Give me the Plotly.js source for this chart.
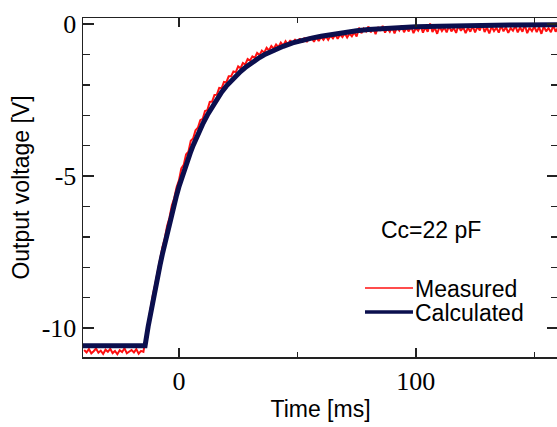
<!DOCTYPE html>
<html>
<head>
<meta charset="utf-8">
<script src="https://cdn.plot.ly/plotly-3.0.1.min.js"></script>
<style>
html,body{margin:0;padding:0;overflow:hidden;background:#fff;}
#chart{width:560px;height:427px;}
</style>
</head>
<body>
<div id="chart"></div>
<script>
// Calculated response (smooth curve)
const calcTime = [-40.5,-14.3,-13,-12,-11,-10,-9,-8,-7,-6,-5,-4,-3,-2,-1,0,1,2,3,4,5,6,7,8,9,10,12,14,16,18,20,22,24,26,28,30,32,34,36,38,40,44,48,52,56,60,65,70,75,80,90,100,110,120,130,140,160];
const calcVolt = [-10.58,-10.58,-9.95,-9.50,-9.08,-8.68,-8.30,-7.93,-7.57,-7.22,-6.88,-6.55,-6.22,-5.92,-5.63,-5.35,-5.09,-4.85,-4.62,-4.40,-4.19,-3.99,-3.80,-3.62,-3.45,-3.29,-2.99,-2.72,-2.47,-2.24,-2.04,-1.86,-1.70,-1.56,-1.43,-1.31,-1.20,-1.10,-1.01,-0.93,-0.86,-0.73,-0.62,-0.53,-0.46,-0.40,-0.33,-0.27,-0.22,-0.18,-0.125,-0.09,-0.07,-0.05,-0.04,-0.03,-0.02];

// Measured response, 1 ms spacing from -40 ms to 160 ms
const measStart = -40;
const measVolt = [
-10.72,-10.80,-10.69,-10.83,-10.76,-10.67,-10.81,-10.74,-10.85,-10.71,
-10.78,-10.68,-10.82,-10.75,-10.86,-10.73,-10.79,-10.66,-10.83,-10.77,
-10.72,-10.80,-10.69,-10.84,-10.75,-10.78,
-10.31,-9.78,-9.38,-8.90,-8.55,-8.11,-7.79,-7.35,-7.05,-6.64,-6.37,-5.97,-5.73,-5.37,
-5.14,-4.75,-4.63,-4.29,-4.20,-3.84,-3.76,-3.49,-3.41,-3.16,
-3.12,-2.86,-2.83,-2.56,-2.55,-2.33,-2.32,-2.10,-2.11,-1.90,
-1.92,-1.72,-1.72,-1.56,-1.58,-1.39,-1.45,-1.28,-1.33,-1.15,
-1.20,-1.06,-1.11,-0.95,-1.02,-0.87,-0.94,-0.78,-0.87,-0.72,
-0.81,-0.67,-0.76,-0.61,-0.71,-0.56,-0.68,-0.53,-0.66,-0.50,
-0.64,-0.47,-0.61,-0.45,-0.59,-0.44,
-0.45,-0.58,-0.43,-0.56,-0.42,-0.52,-0.40,-0.52,-0.38,-0.47,
-0.34,-0.48,-0.34,-0.43,-0.30,-0.44,-0.31,-0.40,-0.27,-0.41,
-0.12,-0.30,-0.15,-0.24,-0.08,-0.27,-0.13,-0.33,-0.10,-0.22,
-0.06,-0.28,-0.14,-0.25,-0.09,-0.31,-0.11,-0.21,-0.04,-0.27,
-0.12,-0.24,-0.07,-0.30,-0.13,-0.22,-0.05,-0.28,-0.10,-0.25,
0.02,-0.26,-0.12,-0.32,-0.08,-0.23,-0.11,-0.27,-0.06,-0.24,
-0.13,-0.29,-0.04,-0.22,-0.10,-0.30,-0.12,-0.25,-0.07,-0.27,
-0.09,-0.21,0.01,-0.26,-0.11,-0.31,-0.08,-0.23,-0.12,-0.28,
-0.05,-0.24,-0.10,-0.29,-0.13,-0.22,-0.06,-0.27,-0.11,-0.25,
-0.03,-0.30,-0.12,-0.23,-0.08,-0.26,-0.10,-0.32,-0.07,-0.24,
-0.13,-0.27,-0.05,-0.25,-0.11
];
const measTime = measVolt.map((v, i) => measStart + i);

const xTickVals = [0, 100];
const xTickText = ['0', '100'];
const yTickVals = [0, -5, -10];
const yTickText = ['0', '-5', '-10'];

const seriesNames = ['Measured', 'Calculated'];
const noteText = 'Cc=22 pF';

const redC = '#ff1010';
const blueC = '#0b0f4e';
const axisC = '#222222';
const serif = 'Liberation Serif, Times New Roman, serif';
const sans = 'Liberation Sans, Arial, sans-serif';

const traces = [
  {x: measTime, y: measVolt, type: 'scatter', mode: 'lines', name: seriesNames[0],
   line: {color: redC, width: 2}, showlegend: false, hoverinfo: 'skip'},
  {x: calcTime, y: calcVolt, type: 'scatter', mode: 'lines', name: seriesNames[1],
   line: {color: blueC, width: 5}, showlegend: false, hoverinfo: 'skip'}
];

const layout = {
  width: 560, height: 427,
  margin: {l: 83, r: 2, t: 18, b: 70, pad: 0},
  paper_bgcolor: '#fff', plot_bgcolor: '#fff',
  showlegend: false,
  xaxis: {
    range: [-40.5, 160], tickmode: 'array', tickvals: xTickVals, ticktext: xTickText,
    ticks: 'inside', ticklen: 9, tickwidth: 1.5, tickcolor: axisC,
    minor: {tickmode: 'linear', tick0: 0, dtick: 50, ticks: 'inside', ticklen: 5, tickwidth: 1.5, tickcolor: axisC},
    showline: true, linecolor: axisC, linewidth: 1.5, mirror: 'ticks',
    showgrid: false, zeroline: false,
    tickfont: {family: serif, size: 26, color: '#000'},
    title: {text: 'Time [ms]', font: {family: sans, size: 23, color: '#000'}, standoff: 6}
  },
  yaxis: {
    range: [-10.95, 0.2], tickmode: 'array', tickvals: yTickVals, ticktext: yTickText,
    ticks: 'inside', ticklen: 11, tickwidth: 1.5, tickcolor: axisC,
    minor: {tickmode: 'linear', tick0: 0, dtick: 1, ticks: 'inside', ticklen: 7, tickwidth: 1.5, tickcolor: axisC},
    showline: true, linecolor: axisC, linewidth: 1.5, mirror: 'ticks',
    showgrid: false, zeroline: false,
    tickfont: {family: serif, size: 26, color: '#000'},
    title: {text: 'Output voltage [V]', font: {family: sans, size: 23, color: '#000'}, standoff: 5}
  },
  shapes: [
    {type: 'line', xref: 'paper', yref: 'paper', x0: 0.5937, x1: 0.6947, y0: 0.2035, y1: 0.2035,
     line: {color: redC, width: 1.5}},
    {type: 'line', xref: 'paper', yref: 'paper', x0: 0.5937, x1: 0.6947, y0: 0.1327, y1: 0.1327,
     line: {color: blueC, width: 3.5}}
  ],
  annotations: [
    {xref: 'paper', yref: 'paper', x: 0.6947, y: 0.2006, xanchor: 'left', yanchor: 'middle',
     text: seriesNames[0], showarrow: false, font: {family: sans, size: 23, color: '#000'}},
    {xref: 'paper', yref: 'paper', x: 0.6947, y: 0.1298, xanchor: 'left', yanchor: 'middle',
     text: seriesNames[1], showarrow: false, font: {family: sans, size: 23, color: '#000'}},
    {xref: 'paper', yref: 'paper', x: 0.7326, y: 0.3746, xanchor: 'center', yanchor: 'middle',
     text: noteText, showarrow: false, font: {family: sans, size: 23, color: '#000'}}
  ]
};

Plotly.newPlot('chart', traces, layout, {staticPlot: true, displayModeBar: false});
</script>
</body>
</html>
